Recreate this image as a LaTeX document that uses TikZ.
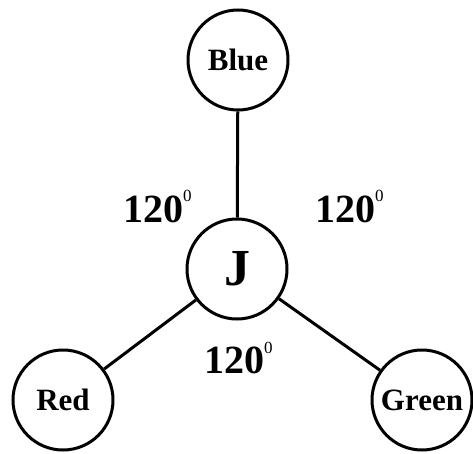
\documentclass[tikz,border=0pt]{standalone}
\usepackage{fontspec}
\setmainfont{Liberation Serif}
\newcommand{\supzero}{\raisebox{20pt}{\fontsize{17}{17}\selectfont\mdseries 0}}
\begin{document}
\begin{tikzpicture}[x=1pt,y=1pt,
  vnode/.style={circle,draw,line width=3pt,minimum size=100pt,inner sep=0pt,font=\fontsize{31}{31}\selectfont\bfseries},
  link/.style={line width=3pt},
  angle/.style={inner sep=0pt,font=\fontsize{40}{40}\selectfont\bfseries}]
\useasboundingbox (0,0) rectangle (473,453);
\node[vnode] (blue) at (238,393) {Blue};
\node[vnode,font=\fontsize{52}{52}\selectfont\bfseries] (j) at (237,184) {J};
\node[vnode] (red) at (63,53) {Red};
\node[vnode] (green) at (422,53) {Green};
\draw[link] (blue) -- (j);
\draw[link] (j) -- (red);
\draw[link] (j) -- (green);
\node[angle,anchor=base west] (a1) at (123,231) {120\supzero};
\node[angle,anchor=base west] (a2) at (315,231) {120\supzero};
\node[angle,anchor=base west] (a3) at (204,80) {120\supzero};
\end{tikzpicture}
\end{document}
